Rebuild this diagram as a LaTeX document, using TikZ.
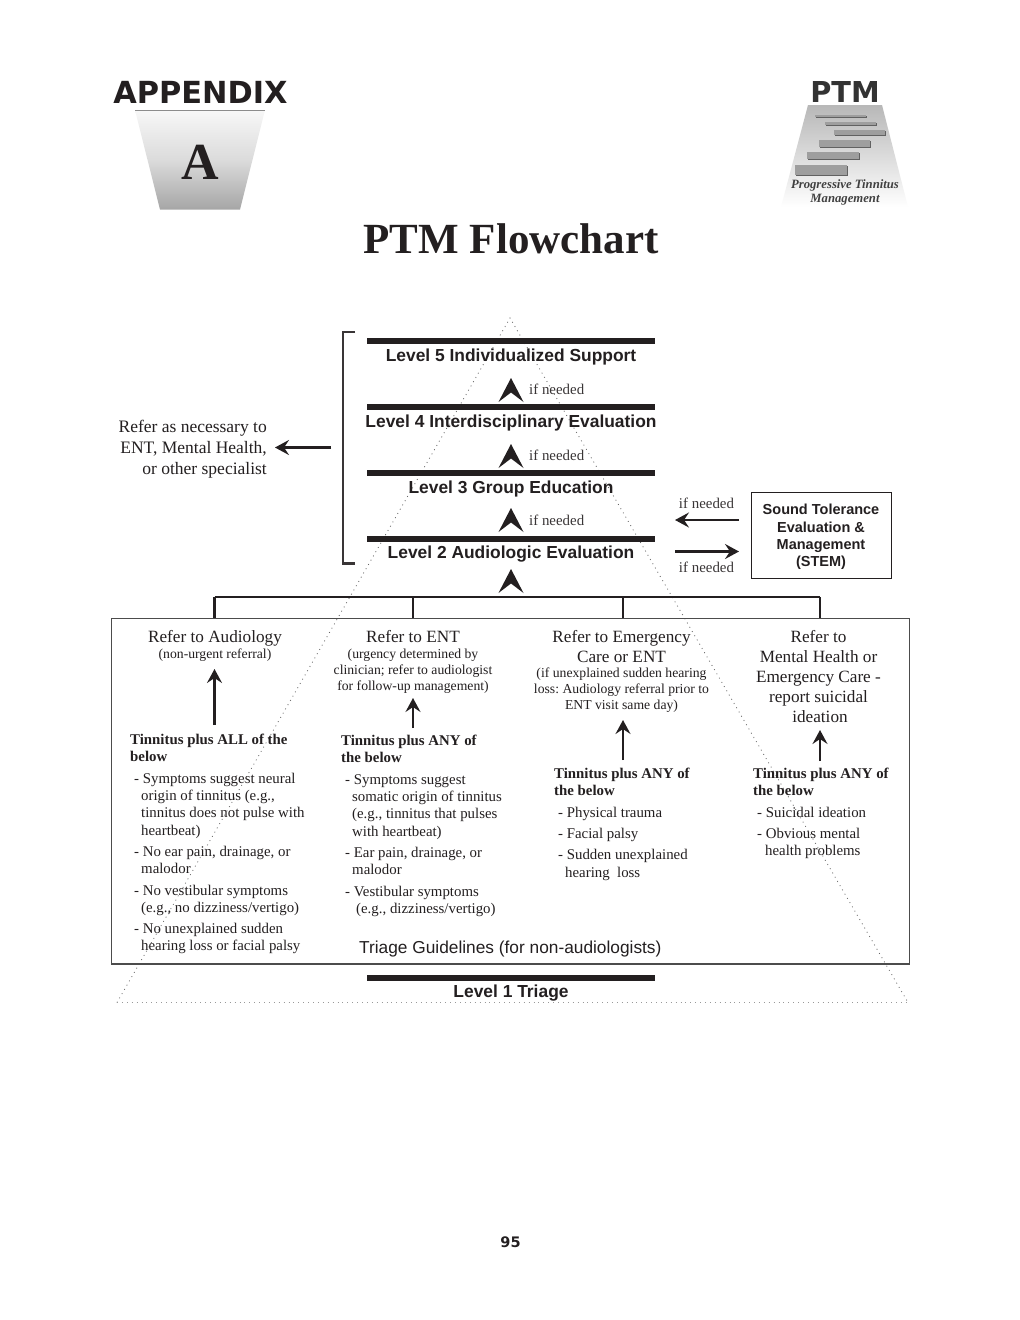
\documentclass[tikz,border=0pt]{standalone}
\usepackage{fontspec}
\usetikzlibrary{arrows.meta}
\setmainfont{Liberation Serif}
\setsansfont{Liberation Sans}
\newfontfamily\heavyfont{DejaVu Sans}
\definecolor{inkblack}{HTML}{231F20}
\newcommand{\subtext}{\fontsize{13.7}{16}\selectfont}
\frenchspacing
\tikzset{
  levelbar/.style={fill=inkblack, minimum width=288pt, minimum height=6pt, inner sep=0pt},
  levellabel/.style={font=\sffamily\bfseries\fontsize{17.4}{20}\selectfont, text=inkblack, inner sep=0pt},
  ifneeded/.style={font=\fontsize{14.9}{17}\selectfont, text=inkblack!90, inner sep=0pt},
  refer/.style={font=\fontsize{17.2}{20}\selectfont, text=inkblack, align=center, inner sep=0pt},
  criteria/.style={font=\fontsize{14.85}{17.3}\selectfont, text=inkblack, align=left, anchor=north west, inner sep=0pt},
  lightarrow/.style={-{Stealth[length=14pt,width=15pt,inset=5pt]}, line width=2.4pt, draw=inkblack},
  treeline/.style={line width=2.4pt, draw=inkblack},
  pics/chevron/.style={code={
    \fill[inkblack] (0,-12) -- (12.5,12) -- (0,2.5) -- (-12.5,12) -- cycle;
  }}
}
\begin{document}
\begin{tikzpicture}[x=1pt, y=-1pt]
    \useasboundingbox (0,0) rectangle (1020,1320);
    \fill[white] (0,0) rectangle (1020,1320);

    % Appendix tab
    \node[font=\heavyfont\bfseries\fontsize{30.4}{32}\selectfont, text=inkblack, inner sep=0pt] (appendix) at (200.5,92.5) {APPENDIX};
    \shade[top color=black!3, bottom color=black!35, middle color=black!14] (135,110) -- (265,110) -- (240,209.5) -- (160,209.5) -- cycle;
    \draw[black!45, line width=0.7pt] (135,110) -- (265,110);
    \node[font=\bfseries\fontsize{52}{52}\selectfont, text=inkblack, inner sep=0pt] (appendixA) at (200.5,162) {A};

    % Logo at top right
    \node[font=\heavyfont\bfseries\fontsize{28.8}{30}\selectfont, text=black!80, inner sep=0pt] (ptmlogo) at (845,91.5) {PTM};
    \shade[top color=black!28, bottom color=white] (808,105) -- (882,105) -- (908,207) -- (781,207) -- cycle;
    \fill[black!62] (816,115.5) rectangle (867,118);
    \fill[black!38] (815,114.7) rectangle (866,117.2);
    \fill[black!62] (826,123) rectangle (877,126);
    \fill[black!38] (825,122) rectangle (876,125);
    \fill[black!62] (835,131) rectangle (885.5,135.6);
    \fill[black!38] (834,130) rectangle (884.5,134.6);
    \fill[black!62] (820,141) rectangle (870.5,147.6);
    \fill[black!38] (819,140) rectangle (869.5,146.6);
    \fill[black!62] (808,153) rectangle (859.5,160.4);
    \fill[black!38] (807,152) rectangle (858.5,159.4);
    \fill[black!62] (796,166) rectangle (847.5,175.6);
    \fill[black!38] (795,165) rectangle (846.5,174.6);
    \node[font=\itshape\bfseries\fontsize{12.7}{14}\selectfont, text=black!75, align=center, inner sep=0pt] (ptmname) at (845,192.5) {Progressive Tinnitus\\Management};

    % Title
    \node[font=\bfseries\fontsize{43}{46}\selectfont, text=inkblack, inner sep=0pt] (title) at (511,239) {PTM Flowchart};

    % Dotted pyramid behind the levels
    \coordinate (apex) at (510,318);
    \coordinate (baseL) at (117,1002.5);
    \coordinate (baseR) at (908,1002.5);
    \draw[black!60, line width=0.8pt, dash pattern=on 0.9pt off 4pt] (baseL) -- (apex) -- (baseR);
    \draw[black!40, line width=0.7pt, dash pattern=on 0.9pt off 4pt] (baseL) -- (baseR);

    % Levels
    \node[levelbar] (bar5) at (511,341) {};
    \node[levellabel] (level5) at (511,356.5) {Level 5 Individualized Support};
    \node[levelbar] (bar4) at (511,407) {};
    \node[levellabel] (level4) at (511,422.5) {Level 4 Interdisciplinary Evaluation};
    \node[levelbar] (bar3) at (511,473) {};
    \node[levellabel] (level3) at (511,488.5) {Level 3 Group Education};
    \node[levelbar] (bar2) at (511,539) {};
    \node[levellabel] (level2) at (511,554.5) {Level 2 Audiologic Evaluation};
    \node[levelbar] (bar1) at (511,978) {};
    \node[levellabel] (level1) at (511,993.5) {Level 1 Triage};

    % Arrowheads between levels
    \pic at (511,390) {chevron};
    \pic at (511,456) {chevron};
    \pic at (511,520) {chevron};
    \pic at (511,581) {chevron};
    \node[ifneeded, anchor=west] (need5) at (529,389.5) {if needed};
    \node[ifneeded, anchor=west] (need4) at (529,455.5) {if needed};
    \node[ifneeded, anchor=west] (need3) at (529,520.5) {if needed};

    % Bracket and outside referral
    \coordinate (brackTop) at (355,332);
    \coordinate (brackBot) at (355,563.5);
    \coordinate (brackMid) at (331,447.5);
    \draw[line width=2.4pt, draw=inkblack!90] (brackTop) -- (343,332) -- (343,563.5) -- (brackBot);
    \node[font=\fontsize{17.5}{21}\selectfont, text=inkblack, align=right, anchor=east, inner sep=0pt] (specialist) at (267,449) {Refer as necessary to\\ENT, Mental Health,\\or other specialist};
    \draw[lightarrow, shorten >=8pt] (brackMid) -- (specialist.east |- brackMid);

    % Sound tolerance box
    \node[draw=inkblack, line width=1pt, minimum width=140pt, minimum height=86pt, inner sep=0pt] (stem) at (821,535.5) {};
    \node[font=\sffamily\bfseries\fontsize{14.5}{17.4}\selectfont, text=inkblack, align=center, inner sep=0pt] (stemtext) at (821,537) {Sound Tolerance\\Evaluation \&\\Management\\(STEM)};
    \coordinate (stemIn) at (739,520);
    \coordinate (stemOut) at (739,551.5);
    \coordinate (levelIn) at (675,520);
    \coordinate (levelOut) at (675,551.5);
    \draw[lightarrow] (stemIn) -- (levelIn);
    \draw[lightarrow] (levelOut) -- (stemOut);
    \node[ifneeded] (needIn) at (706.5,503.5) {if needed};
    \node[ifneeded] (needOut) at (706.5,567.5) {if needed};

    % Triage box and tree above it
    \node[draw=black!70, line width=1.1pt, minimum width=798pt, minimum height=345.5pt, inner sep=0pt] (triage) at (510.5,791.2) {};
    \coordinate (treeA) at (214.5,597);
    \coordinate (treeB) at (413,597);
    \coordinate (treeC) at (623,597);
    \coordinate (treeD) at (820,597);
    \draw[treeline] (treeA) -- (treeD);
    \draw[treeline] (treeA) -- (treeA |- triage.north);
    \draw[treeline] (treeB) -- (treeB |- triage.north);
    \draw[treeline] (treeC) -- (treeC |- triage.north);
    \draw[treeline] (treeD) -- (treeD |- triage.north);

    % Audiology column
    \node[refer, anchor=north] (headA) at (215,630) {Refer to Audiology\\[-4pt]{\subtext (non-urgent referral)}};
    \coordinate (critA) at (214.5,725);
    \coordinate (goA) at (214.5,669);
    \draw[lightarrow] (critA) -- (goA);
    \node[criteria] (listA) at (130,734) {\textbf{Tinnitus plus ALL of the}\\\textbf{below}\\[4pt]
      \hspace*{4pt}- Symptoms suggest neural\\\hspace*{11pt}origin of tinnitus (e.g.,\\\hspace*{11pt}tinnitus does not pulse with\\\hspace*{11pt}heartbeat)\\[4pt]
      \hspace*{4pt}- No ear pain, drainage, or\\\hspace*{11pt}malodor\\[4pt]
      \hspace*{4pt}- No vestibular symptoms\\\hspace*{11pt}(e.g., no dizziness/vertigo)\\[4pt]
      \hspace*{4pt}- No unexplained sudden\\\hspace*{11pt}hearing loss or facial palsy};

    % ENT column
    \node[refer, anchor=north] (headB) at (413,630) {Refer to ENT\\[-4pt]{\subtext (urgency determined by}\\[-4pt]{\subtext clinician; refer to audiologist}\\[-4pt]{\subtext for follow-up management)}};
    \coordinate (critB) at (413,728);
    \coordinate (goB) at (413,698);
    \draw[lightarrow] (critB) -- (goB);
    \node[criteria] (listB) at (341,735) {\textbf{Tinnitus plus ANY of}\\\textbf{the below}\\[4pt]
      \hspace*{4pt}- Symptoms suggest\\\hspace*{11pt}somatic origin of tinnitus\\\hspace*{11pt}(e.g., tinnitus that pulses\\\hspace*{11pt}with heartbeat)\\[4pt]
      \hspace*{4pt}- Ear pain, drainage, or\\\hspace*{11pt}malodor\\[4pt]
      \hspace*{4pt}- Vestibular symptoms\\\hspace*{15pt}(e.g., dizziness/vertigo)};

    % Emergency column
    \node[refer, anchor=north] (headC) at (621.5,630) {Refer to Emergency\\Care or ENT\\[-4.5pt]{\subtext (if unexplained sudden hearing}\\[-4pt]{\subtext loss: Audiology referral prior to}\\[-4pt]{\subtext ENT visit same day)}};
    \coordinate (critC) at (623,760);
    \coordinate (goC) at (623,720);
    \draw[lightarrow] (critC) -- (goC);
    \node[criteria] (listC) at (554,768) {\textbf{Tinnitus plus ANY of}\\\textbf{the below}\\[4pt]
      \hspace*{4pt}- Physical trauma\\[4pt]
      \hspace*{4pt}- Facial palsy\\[4pt]
      \hspace*{4pt}- Sudden unexplained\\\hspace*{11pt}hearing\ \ loss};

    % Mental health column
    \node[refer, anchor=north] (headD) at (818.5,630) {Refer to\\Mental Health or\\Emergency Care -\\report suicidal\\\hspace*{3pt}ideation};
    \coordinate (critD) at (820,761);
    \coordinate (goD) at (820,730);
    \draw[lightarrow] (critD) -- (goD);
    \node[criteria] (listD) at (753,768) {\textbf{Tinnitus plus ANY of}\\\textbf{the below}\\[4pt]
      \hspace*{4pt}- Suicidal ideation\\[4pt]
      \hspace*{4pt}- Obvious mental\\\hspace*{12pt}health problems};

    % Box caption
    \node[font=\sffamily\fontsize{17.3}{20}\selectfont, text=inkblack, anchor=west, inner sep=0pt] (guidelines) at (359,949) {Triage Guidelines (for non-audiologists)};

    % Page number
    \node[font=\heavyfont\bfseries\fontsize{14.5}{16}\selectfont, text=inkblack, inner sep=0pt] (pagenum) at (510.5,1242) {95};
\end{tikzpicture}
\end{document}
